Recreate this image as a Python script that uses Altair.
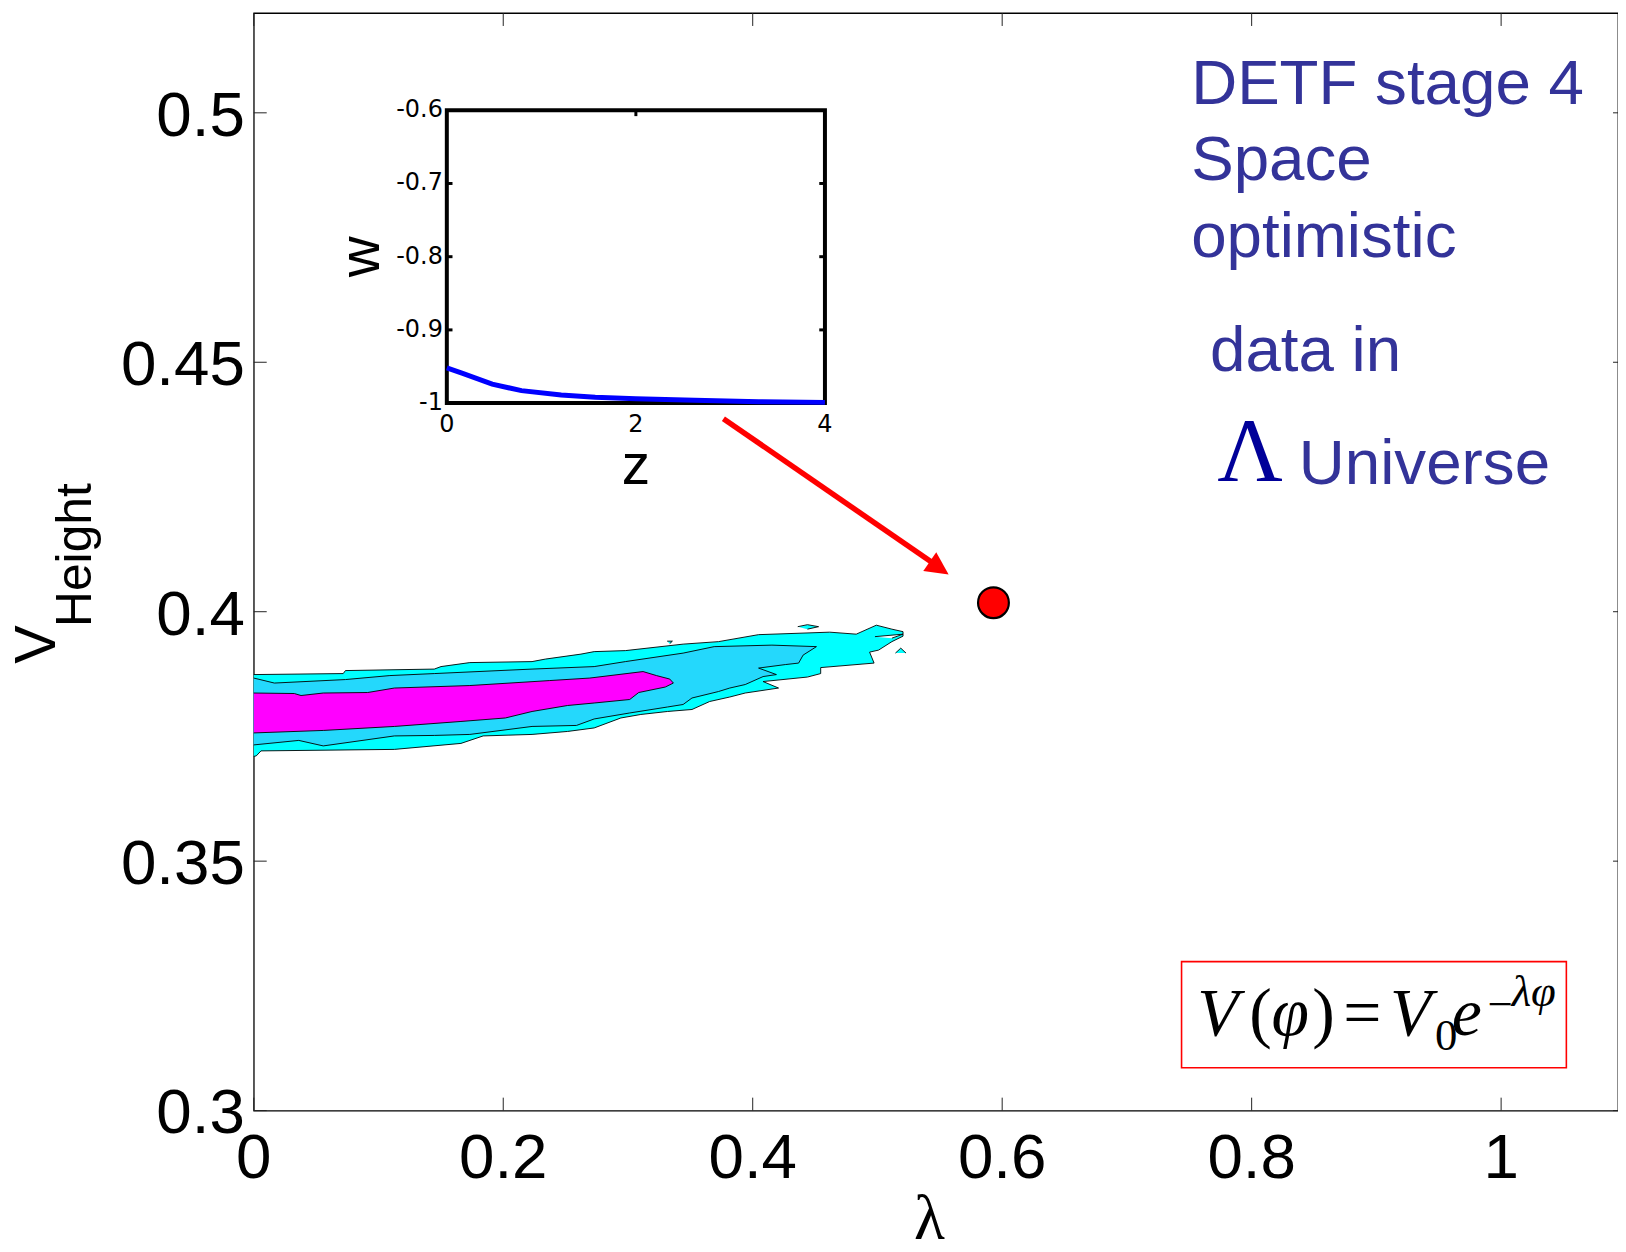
import altair as alt
import pandas as pd

# ---------------- data ----------------
x_ticks = [0, 0.2, 0.4, 0.6, 0.8, 1.0]
x_labels = ["0", "0.2", "0.4", "0.6", "0.8", "1"]
y_ticks = [0.3, 0.35, 0.4, 0.45, 0.5]
y_labels = ["0.3", "0.35", "0.4", "0.45", "0.5"]

# outer (cyan) contour
cyan_lam = [0.0000, 0.0717, 0.0735, 0.1447, 0.1501, 0.1732, 0.2231, 0.2337, 0.2623, 0.2729,
            0.2979, 0.3442, 0.3726, 0.4047, 0.4617, 0.4830, 0.4991, 0.5116, 0.5205, 0.5205,
            0.5116, 0.5009, 0.4937, 0.4973, 0.4545, 0.4545, 0.4439, 0.4083, 0.4207, 0.3940,
            0.3816, 0.3655, 0.3513, 0.3317, 0.3103, 0.2943, 0.2729, 0.2516, 0.2231, 0.1839,
            0.1661, 0.1127, 0.0058, 0.0020, 0.0000]
cyan_v = [0.3874, 0.3876, 0.3882, 0.3885, 0.3890, 0.3898, 0.3900, 0.3905, 0.3915, 0.3920,
          0.3922, 0.3935, 0.3940, 0.3954, 0.3959, 0.3955, 0.3973, 0.3965, 0.3960, 0.3951,
          0.3940, 0.3923, 0.3919, 0.3897, 0.3888, 0.3876, 0.3869, 0.3860, 0.3847, 0.3837,
          0.3829, 0.3820, 0.3804, 0.3800, 0.3794, 0.3787, 0.3767, 0.3760, 0.3754, 0.3751,
          0.3736, 0.3724, 0.3721, 0.3711, 0.3710]
islet_lam = [0.4361, 0.4439, 0.4528, 0.4439]
islet_v = [0.3970, 0.3974, 0.3970, 0.3965]
spur_lam = [0.5144, 0.5187, 0.5229]
spur_v = [0.3917, 0.3927, 0.3917]
speck_lam = [0.3314, 0.3356, 0.3335]
speck_v = [0.3941, 0.3941, 0.3936]
notch_lam = [0.4980, 0.5205, 0.5116]
notch_v = [0.3950, 0.3955, 0.3947]

# middle (light blue) contour
mid_lam = [0.0000, 0.0165, 0.0735, 0.1091, 0.1447, 0.2231, 0.2729, 0.2979, 0.3442, 0.3691,
           0.4154, 0.4511, 0.4404, 0.4368, 0.4261, 0.4047, 0.4190, 0.4083, 0.3940, 0.3816,
           0.3726, 0.3513, 0.3442, 0.3317, 0.3014, 0.2729, 0.2587, 0.2231, 0.1732, 0.1447,
           0.1127, 0.0557, 0.0361, 0.0000]
mid_v = [0.3867, 0.3857, 0.3864, 0.3872, 0.3876, 0.3885, 0.3890, 0.3900, 0.3917, 0.3930,
         0.3933, 0.3930, 0.3913, 0.3897, 0.3894, 0.3887, 0.3874, 0.3870, 0.3854, 0.3847,
         0.3840, 0.3827, 0.3814, 0.3809, 0.3797, 0.3785, 0.3772, 0.3770, 0.3754, 0.3752,
         0.3751, 0.3731, 0.3742, 0.3733]

# inner (magenta) contour
mag_lam = [0.0000, 0.0325, 0.0379, 0.0557, 0.0913, 0.1127, 0.1732, 0.2373, 0.2694, 0.3121,
           0.3228, 0.3335, 0.3364, 0.3299, 0.3086, 0.3014, 0.2729, 0.2516, 0.2231, 0.2017,
           0.1661, 0.1127, 0.0557, 0.0000]
mag_v = [0.3837, 0.3836, 0.3832, 0.3837, 0.3838, 0.3847, 0.3852, 0.3862, 0.3867, 0.3880,
         0.3872, 0.3865, 0.3857, 0.3849, 0.3838, 0.3824, 0.3817, 0.3812, 0.3800, 0.3787,
         0.3780, 0.3770, 0.3762, 0.3757]

# Lambda-CDM point and arrow
point_lam = [0.5930]
point_v = [0.4018]
arrow_lam = [0.3765, 0.5430]
arrow_v = [0.43870, 0.4100]
head_lam = [0.5495]
head_v = [0.40875]

# inset w(z)
inset_z = [0, 0.16, 0.48, 0.79, 1.21, 1.57, 2.0, 2.62, 3.3, 4.0]
inset_w = [-0.952, -0.959, -0.974, -0.983, -0.989, -0.992, -0.994, -0.996, -0.998, -0.999]
inset_zticks = [0, 2, 4]
inset_wticks = [-0.6, -0.7, -0.8, -0.9, -1.0]
inset_wlabels = ["-0.6", "-0.7", "-0.8", "-0.9", "-1"]

# ---------------- layout ----------------
W, H = 1371, 1103
XMAX = 1.0937
SANS = "Liberation Sans"
SERIF = "Liberation Serif"
TXT = "#333399"

xs = alt.Scale(domain=[0, XMAX], nice=False, zero=False)
ys = alt.Scale(domain=[0.3, 0.52], nice=False, zero=False)
zs = alt.Scale(domain=[0, 4], range=[194, 574], nice=False, zero=False)
ws = alt.Scale(domain=[-1, -0.6], range=[392, 97.7], nice=False, zero=False)

one = pd.DataFrame({"k": [0]})


def polys(*pairs):
    rows = []
    for p, (ls, vs) in enumerate(pairs):
        for i, (l, v) in enumerate(zip(ls, vs)):
            rows.append({"lam": l, "v": v, "idx": i, "poly": p})
    return pd.DataFrame(rows)


def poly_layer(df, fill):
    return alt.Chart(df).mark_line(fill=fill, stroke="black", strokeWidth=0.9).encode(
        x=alt.X("lam:Q", scale=xs, axis=None),
        y=alt.Y("v:Q", scale=ys, axis=None),
        order="idx:Q",
        detail="poly:N",
    )


def txt(text, lam, v, **kw):
    return alt.Chart(one).mark_text(**kw).encode(
        x=alt.XDatum(lam, scale=xs, axis=None),
        y=alt.YDatum(v, scale=ys, axis=None),
        text=alt.value(text),
    )


def ptxt(text, px, py, **kw):
    return alt.Chart(one).mark_text(**kw).encode(
        x=alt.value(px), y=alt.value(py), text=alt.value(text))


cyan = poly_layer(polys((cyan_lam, cyan_v), (islet_lam, islet_v), (spur_lam, spur_v),
                        (speck_lam, speck_v)), "#00ffff")
notch = poly_layer(polys((notch_lam, notch_v)), "white")
mid = poly_layer(polys((mid_lam, mid_v)), "#24d8fc")
mag = poly_layer(polys((mag_lam, mag_v)), "#ff00ff")

xt = pd.DataFrame({"t": x_ticks, "s": x_labels})
yt = pd.DataFrame({"t": y_ticks, "s": y_labels})
tick_style = dict(color="#222222", strokeWidth=1)
ticks = [
    alt.Chart(xt).mark_rule(**tick_style).encode(
        x=alt.X("t:Q", scale=xs, axis=None), y=alt.value(H), y2=alt.value(H - 13)),
    alt.Chart(xt).mark_rule(**tick_style).encode(
        x=alt.X("t:Q", scale=xs, axis=None), y=alt.value(0), y2=alt.value(13)),
    alt.Chart(yt).mark_rule(**tick_style).encode(
        y=alt.Y("t:Q", scale=ys, axis=None), x=alt.value(0), x2=alt.value(13)),
    alt.Chart(yt).mark_rule(**tick_style).encode(
        y=alt.Y("t:Q", scale=ys, axis=None), x=alt.value(W - 5), x2=alt.value(W)),
]
tick_labels = [
    alt.Chart(xt).mark_text(font=SANS, fontSize=64, align="center", baseline="alphabetic",
                            color="black").encode(
        x=alt.X("t:Q", scale=xs, axis=None), y=alt.value(H + 68), text="s:N"),
    alt.Chart(yt).mark_text(font=SANS, fontSize=64, align="right", baseline="alphabetic",
                            dy=23, color="black").encode(
        y=alt.Y("t:Q", scale=ys, axis=None), x=alt.value(-9), text="s:N"),
]

arrow_df = pd.DataFrame({"l0": [arrow_lam[0]], "l1": [arrow_lam[1]],
                         "v0": [arrow_v[0]], "v1": [arrow_v[1]]})
arrow = alt.Chart(arrow_df).mark_rule(color="#ff0000", strokeWidth=5.5).encode(
    x=alt.X("l0:Q", scale=xs, axis=None), x2="l1:Q",
    y=alt.Y("v0:Q", scale=ys, axis=None), y2="v1:Q")
head = alt.Chart(pd.DataFrame({"lam": head_lam, "v": head_v})).mark_point(
    shape="M -1 -1 L 1 0 L -1 1 Z", filled=True, fill="#ff0000", stroke=None,
    opacity=1, size=529, angle=34.5).encode(
    x=alt.X("lam:Q", scale=xs, axis=None), y=alt.Y("v:Q", scale=ys, axis=None))
dot = alt.Chart(pd.DataFrame({"lam": point_lam, "v": point_v})).mark_point(
    shape="circle", filled=True, fill="#ff0000", stroke="black", strokeWidth=2.2,
    opacity=1, size=960).encode(
    x=alt.X("lam:Q", scale=xs, axis=None), y=alt.Y("v:Q", scale=ys, axis=None))

labels = [
    txt(["DETF stage 4", "Space", "optimistic"], 0.7515, 0.5018, font=SANS, fontSize=64,
        color=TXT, align="left", baseline="alphabetic", lineHeight=77),
    txt("data in", 0.7666, 0.4482, font=SANS, fontSize=64, color=TXT, align="left",
        baseline="alphabetic"),
    txt("Λ", 0.7725, 0.4261, font=SERIF, fontSize=91, color="#000099", align="left",
        baseline="alphabetic"),
    txt("Universe", 0.8378, 0.4256, font=SANS, fontSize=64, color=TXT, align="left",
        baseline="alphabetic"),
]

box_df = pd.DataFrame({"l0": [0.7438], "l1": [1.0523], "v0": [0.30858], "v1": [0.32986]})
box = alt.Chart(box_df).mark_rect(fill="white", stroke="#ff0000", strokeWidth=1.6).encode(
    x=alt.X("l0:Q", scale=xs, axis=None), x2="l1:Q",
    y=alt.Y("v0:Q", scale=ys, axis=None), y2="v1:Q")

FB = 0.31522
fsty = dict(font=SERIF, align="left", baseline="alphabetic", color="black")
formula = [
    txt("V", 0.7563, FB, fontSize=68, fontStyle="italic", **fsty),
    txt("(", 0.7980, FB, fontSize=68, **fsty),
    txt("φ", 0.8160, FB, fontSize=68, fontStyle="italic", **fsty),
    txt(")", 0.8485, FB, fontSize=68, **fsty),
    txt("=", 0.8735, FB, fontSize=68, **fsty),
    txt("V", 0.9110, FB, fontSize=68, fontStyle="italic", **fsty),
    txt("0", 0.9470, 0.31223, fontSize=45, **fsty),
    txt("e", 0.9605, FB, fontSize=68, fontStyle="italic", **fsty),
    txt("−", 0.9890, 0.31835, fontSize=45, **fsty),
    txt("λφ", 1.0085, 0.32094, fontSize=45, fontStyle="italic", **fsty),
]

titles = [
    ptxt("V", -200, 654, font=SANS, fontSize=58, angle=270, align="left",
         baseline="alphabetic", color="black"),
    ptxt("Height", -164, 617, font=SANS, fontSize=50, angle=270, align="left",
         baseline="alphabetic", color="black"),
    ptxt("λ", 679, 1232, font=SERIF, fontSize=64, align="center",
         baseline="alphabetic", color="black"),
]

main = alt.layer(cyan, notch, mid, mag, *ticks, *tick_labels, box, *formula, arrow, head,
                 dot, *labels, *titles)

# ---------------- inset ----------------
frame_df = pd.DataFrame({"z0": [0], "z1": [4], "w0": [-1.0], "w1": [-0.6]})
frame = alt.Chart(frame_df).mark_rect(fill="white", stroke="black", strokeWidth=4).encode(
    x=alt.X("z0:Q", scale=zs, axis=None), x2="z1:Q",
    y=alt.Y("w0:Q", scale=ws, axis=None), y2="w1:Q")

nub_df = pd.DataFrame({
    "z0": [0, 0, 0, 4, 4, 4, 2, 2],
    "z1": [0.06, 0.06, 0.06, 3.94, 3.94, 3.94, 2, 2],
    "w0": [-0.7, -0.8, -0.9, -0.7, -0.8, -0.9, -0.6, -1.0],
    "w1": [-0.7, -0.8, -0.9, -0.7, -0.8, -0.9, -0.608, -0.992],
})
nubs = alt.Chart(nub_df).mark_rule(color="black", strokeWidth=3).encode(
    x=alt.X("z0:Q", scale=zs, axis=None), x2="z1:Q",
    y=alt.Y("w0:Q", scale=ws, axis=None), y2="w1:Q")

wline = alt.Chart(pd.DataFrame({"z": inset_z, "w": inset_w})).mark_line(
    color="#0000ff", strokeWidth=5).encode(
    x=alt.X("z:Q", scale=zs, axis=None), y=alt.Y("w:Q", scale=ws, axis=None),
    order="z:Q")

wlab = alt.Chart(pd.DataFrame({"w": inset_wticks, "t": inset_wlabels, "z": [0] * 5})).mark_text(
    font="DejaVu Sans", fontSize=24, align="right", baseline="middle", dx=-4,
    color="black").encode(
    x=alt.X("z:Q", scale=zs, axis=None), y=alt.Y("w:Q", scale=ws, axis=None), text="t:N")
zlab = alt.Chart(pd.DataFrame({"z": inset_zticks, "w": [-1.0] * 3})).mark_text(
    font="DejaVu Sans", fontSize=24, align="center", baseline="top", dy=10,
    color="black").encode(
    x=alt.X("z:Q", scale=zs, axis=None), y=alt.Y("w:Q", scale=ws, axis=None),
    text=alt.Text("z:Q", format="d"))


def itxt(text, z, w, **kw):
    return alt.Chart(one).mark_text(**kw).encode(
        x=alt.XDatum(z, scale=zs, axis=None), y=alt.YDatum(w, scale=ws, axis=None),
        text=alt.value(text))


ztitle = itxt("z", 2.0, -1.11, font=SANS, fontSize=57, align="center",
              baseline="alphabetic", color="black")
wtitle = itxt("w", -0.716, -0.8, font=SANS, fontSize=57, angle=270, align="center",
              baseline="alphabetic", color="black")

inset = alt.layer(frame, nubs, wline, wlab, zlab, ztitle, wtitle)

chart = alt.layer(main, inset).resolve_scale(x="independent", y="independent").properties(
    width=W, height=H,
    padding={"left": 247, "top": 2, "right": 0, "bottom": 131},
    autosize=alt.AutoSizeParams(type="none"),
    background="white",
).configure_view(stroke="black", strokeWidth=1.3)

chart.save("out.html", embed_options={"renderer": "svg", "actions": False})
